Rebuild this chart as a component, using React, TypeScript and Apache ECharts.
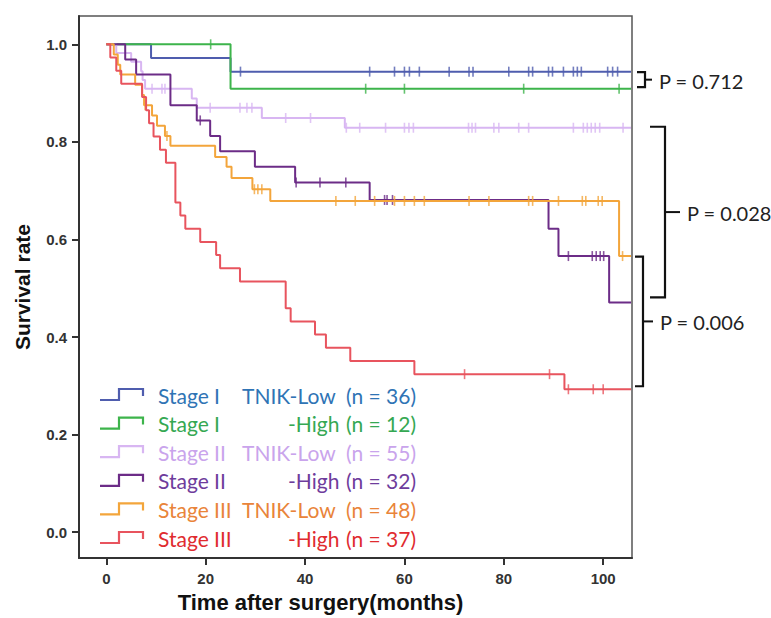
import React, { useEffect, useRef } from "react";
import * as echarts from "echarts";

// ---- Data ----
const groupNames = [
  "Stage I TNIK-Low",
  "Stage I TNIK-High",
  "Stage II TNIK-Low",
  "Stage II TNIK-High",
  "Stage III TNIK-Low",
  "Stage III TNIK-High",
];
const legendStage = ["Stage I", "Stage I", "Stage II", "Stage II", "Stage III", "Stage III"];
const legendGroup = ["TNIK-Low", "-High", "TNIK-Low", "-High", "TNIK-Low", "-High"];
const legendN = ["(n = 36)", "(n = 12)", "(n = 55)", "(n = 32)", "(n = 48)", "(n = 37)"];

const xTicks = [0, 20, 40, 60, 80, 100];
const yTicks = [0, 0.2, 0.4, 0.6, 0.8, 1.0];
const followUpEnd = 105.6;

// Stage I TNIK-Low
const s1LowTimes = [0, 9, 25];
const s1LowSurv = [1, 0.972, 0.944];
const s1LowCensor = [27, 53, 58, 60, 61, 63, 69, 73, 73.8, 81, 85, 85.8, 89, 89.8, 92, 94, 94.8, 95.6, 100.9, 101.9, 102.9];

// Stage I TNIK-High
const s1HighTimes = [0, 25];
const s1HighSurv = [1, 0.909];
const s1HighCensor = [21, 52.2, 60, 84, 103.2];

// Stage II TNIK-Low
const s2LowTimes = [0, 2, 5, 7, 7.3, 7.8, 17.2, 18.2, 31.3, 48];
const s2LowSurv = [1, 0.982, 0.964, 0.945, 0.927, 0.909, 0.889, 0.87, 0.849, 0.829];
const s2LowCensor = [9.2, 11.2, 11.8, 20.9, 26.9, 28.3, 29.3, 36.1, 41.1, 48.3, 51, 56.2, 60, 60.9, 61.8, 72.9, 73.6, 74.3, 78, 79, 83, 85, 94, 96, 96.8, 97.6, 98.4, 99.3, 104];

// Stage II TNIK-High
const s2HighTimes = [0, 3.8, 6, 12.9, 18.2, 20.9, 22.9, 29.9, 38, 53, 89, 91, 101.2];
const s2HighSurv = [1, 0.969, 0.938, 0.875, 0.844, 0.812, 0.781, 0.749, 0.717, 0.681, 0.622, 0.566, 0.471];
const s2HighCensor = [18.9, 38.2, 43, 48.2, 56, 56.5, 57.6, 93, 97.8, 98.6, 99.4, 100.1];

// Stage III TNIK-Low
const s3LowTimes = [0, 1.5, 2.3, 2.8, 5.8, 7.2, 7.6, 9.2, 10.2, 11.8, 12.9, 21.9, 24.2, 25.2, 29.4, 33, 103.2];
const s3LowSurv = [1, 0.979, 0.958, 0.938, 0.917, 0.896, 0.875, 0.854, 0.833, 0.812, 0.792, 0.769, 0.749, 0.726, 0.703, 0.679, 0.566];
const s3LowCensor = [7.8, 12.2, 29.8, 30.5, 31.3, 46.2, 50.1, 54, 58, 60, 62, 64, 73, 77, 85, 85.8, 91, 95.8, 96.5, 99, 99.8, 103.9];

// Stage III TNIK-High
const s3HighTimes = [0, 0.8, 2, 3, 7.2, 8, 8.6, 9.5, 10.8, 12, 13.9, 14.9, 15.9, 18.9, 22.1, 22.9, 26.9, 36.1, 37.1, 42, 44.2, 49.1, 62, 92.2];
const s3HighSurv = [1, 0.973, 0.946, 0.919, 0.892, 0.865, 0.838, 0.811, 0.784, 0.757, 0.676, 0.649, 0.622, 0.595, 0.568, 0.541, 0.514, 0.459, 0.432, 0.405, 0.378, 0.351, 0.324, 0.293];
const s3HighCensor = [72.1, 89.2, 93, 98, 100];

const pLabels = ["P = 0.712", "P = 0.028", "P = 0.006"];

// ---- Styles ----
const lineColors = ["#4F5DAE", "#3DB44B", "#D8B6F2", "#6C2C87", "#F3A53B", "#E8545E"];
const textColors = ["#2F74B5", "#35A853", "#C9A4EC", "#6E3C9C", "#E9843A", "#E02B2F"];

const groupTimes = [s1LowTimes, s1HighTimes, s2LowTimes, s2HighTimes, s3LowTimes, s3HighTimes];
const groupSurv = [s1LowSurv, s1HighSurv, s2LowSurv, s2HighSurv, s3LowSurv, s3HighSurv];
const groupCensor = [s1LowCensor, s1HighCensor, s2LowCensor, s2HighCensor, s3LowCensor, s3HighCensor];

function survAt(times: number[], surv: number[], t: number) {
  let s = surv[0];
  for (let i = 0; i < times.length; i++) {
    if (times[i] <= t) s = surv[i];
  }
  return s;
}

const FONT_LEGEND = "Lato, 'Open Sans', sans-serif";
const FONT_AXIS = "'Liberation Sans', Arial, sans-serif";

export default function App() {
  const ref = useRef<HTMLDivElement>(null);

  useEffect(() => {
    if (!ref.current) return;
    const chart = echarts.init(ref.current, null, { renderer: "svg" });

    const series: any[] = [];
    groupNames.forEach((name, i) => {
      const times = groupTimes[i];
      const surv = groupSurv[i];
      const pts = times.map((t, k) => [t, surv[k]]);
      pts.push([followUpEnd, surv[surv.length - 1]]);
      series.push({
        name,
        type: "line",
        step: "end",
        data: pts,
        showSymbol: false,
        silent: true,
        lineStyle: { color: lineColors[i], width: 2 },
        z: 2 + i,
      });
      series.push({
        name: name + " censored",
        type: "scatter",
        data: groupCensor[i].map((t) => [t, survAt(times, surv, t)]),
        symbol: "rect",
        symbolSize: [1.6, 10],
        silent: true,
        itemStyle: { color: lineColors[i] },
        z: 2 + i,
      });
    });

    chart.setOption({
      animation: false,
      backgroundColor: "#ffffff",
      grid: {
        left: 79,
        right: 139,
        top: 16,
        bottom: 49,
        show: true,
        borderColor: "#555",
        borderWidth: 1.5,
        backgroundColor: "transparent",
      },
      xAxis: {
        type: "value",
        min: -5.5,
        max: 105.8,
        name: "Time after surgery(months)",
        nameLocation: "middle",
        nameGap: 29,
        nameTextStyle: {
          fontFamily: FONT_AXIS,
          fontWeight: "bold",
          fontSize: 22,
          color: "#111",
          padding: [0, 70, 0, 0],
        },
        axisLine: { show: true, onZero: false, lineStyle: { color: "#333", width: 2 } },
        axisTick: { show: true, length: 7, customValues: xTicks, lineStyle: { color: "#333", width: 2 } },
        axisLabel: {
          customValues: xTicks,
          margin: 13,
          fontFamily: FONT_AXIS,
          fontWeight: "bold",
          fontSize: 15,
          color: "#333",
        },
        splitLine: { show: false },
      },
      yAxis: {
        type: "value",
        min: -0.053,
        max: 1.058,
        name: "Survival rate",
        nameLocation: "middle",
        nameGap: 46,
        nameRotate: 90,
        nameTextStyle: {
          fontFamily: FONT_AXIS,
          fontWeight: "bold",
          fontSize: 21,
          color: "#111",
        },
        axisLine: { show: true, onZero: false, lineStyle: { color: "#333", width: 2 } },
        axisTick: { show: true, length: 7, customValues: yTicks, lineStyle: { color: "#333", width: 2 } },
        axisLabel: {
          customValues: yTicks,
          margin: 12,
          formatter: (v: number) => v.toFixed(1),
          fontFamily: FONT_AXIS,
          fontWeight: "bold",
          fontSize: 15,
          color: "#333",
        },
        splitLine: { show: false },
      },
      series,
    });

    const yPix = (v: number) => (chart.convertToPixel({ xAxisIndex: 0, yAxisIndex: 0 }, [0, v]) as number[])[1];
    const lastOf = (i: number) => groupSurv[i][groupSurv[i].length - 1];

    const graphic: any[] = [];

    // Legend
    const legTop = 395;
    const legStep = 28.6;
    groupNames.forEach((_, i) => {
      const y = legTop + i * legStep;
      graphic.push({
        type: "polyline",
        shape: {
          points: [
            [100, y + 5],
            [119, y + 5],
            [119, y - 6],
            [143, y - 6],
            [143, y + 1],
          ],
        },
        style: { stroke: lineColors[i], lineWidth: 2.2, fill: null },
        z: 20,
      });
      const base = { fontFamily: FONT_LEGEND, fontSize: 21, fill: textColors[i], verticalAlign: "middle" };
      graphic.push({ type: "text", x: 158, y, style: { ...base, text: legendStage[i], align: "left" }, z: 20 });
      graphic.push({
        type: "text",
        x: legendGroup[i].startsWith("-") ? 288 : 242,
        y,
        style: { ...base, text: legendGroup[i], align: "left" },
        z: 20,
      });
      graphic.push({ type: "text", x: 346, y, style: { ...base, text: legendN[i], align: "left" }, z: 20 });
    });

    // P-value brackets
    const brackets = [
      { top: yPix(lastOf(0)) + 0.5, bot: yPix(lastOf(1)) - 1.5, x0: 637, x1: 645, x2: 652 },
      { top: yPix(lastOf(2)) - 1, bot: yPix(lastOf(3)) - 5, x0: 650, x1: 665, x2: 680 },
      { top: yPix(lastOf(4)) + 0.5, bot: yPix(lastOf(5)) - 3, x0: 635, x1: 643, x2: 653 },
    ];
    brackets.forEach((b, i) => {
      const mid = (b.top + b.bot) / 2;
      graphic.push({
        type: "polyline",
        shape: {
          points: [
            [b.x0, b.top],
            [b.x1, b.top],
            [b.x1, b.bot],
            [b.x0, b.bot],
          ],
        },
        style: { stroke: "#111", lineWidth: 2.2, fill: null },
        z: 20,
      });
      graphic.push({
        type: "line",
        shape: { x1: b.x1, y1: mid, x2: b.x2, y2: mid },
        style: { stroke: "#111", lineWidth: 2 },
        z: 20,
      });
      graphic.push({
        type: "text",
        x: b.x2 + 7,
        y: mid + 1,
        style: {
          text: pLabels[i],
          fontFamily: FONT_LEGEND,
          fontSize: 20,
          fill: "#222",
          verticalAlign: "middle",
          align: "left",
        },
        z: 20,
      });
    });

    chart.setOption({ graphic });

    return () => chart.dispose();
  }, []);

  return (
    <div
      ref={ref}
      style={{ position: "fixed", left: 0, top: 0, width: 771, height: 618, background: "#fff" }}
    />
  );
}
